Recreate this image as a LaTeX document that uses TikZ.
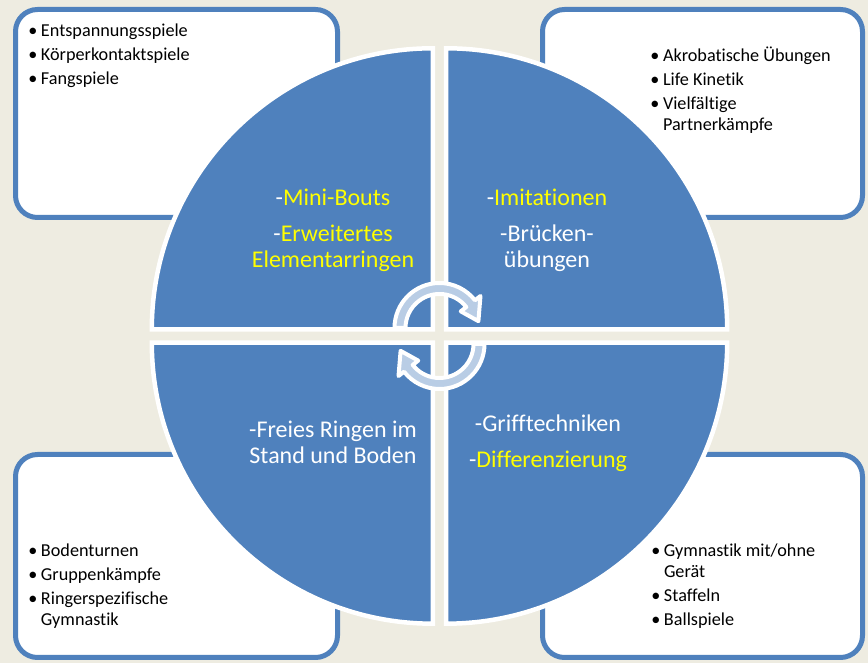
\documentclass[tikz,border=0pt]{standalone}
\usepackage{fontspec}
\setmainfont{Carlito}[Ligatures={NoCommon}]
\usepackage{xcolor}
\usetikzlibrary{positioning}
\definecolor{bgtan}{HTML}{EEECE1}
\definecolor{quadblue}{HTML}{4F81BD}
\definecolor{arrowblue}{HTML}{B9CDE5}
\definecolor{hiyellow}{HTML}{FFFF00}
\newcommand{\bul}{\makebox[6.3pt][l]{\textbullet}}
\newcommand{\nobul}{\hspace*{6.3pt}}

\begin{document}
\begin{tikzpicture}[x=0.5pt, y=0.5pt,
                    boxframe/.style={line width=2.5pt, draw=quadblue, fill=white, rounded corners=11pt},
                    quadrant/.style={line width=2.25pt, draw=white, fill=quadblue},
                    circarrow/.style={line width=2pt, draw=white, fill=arrowblue, line join=round},
                    listtext/.style={anchor=north west, inner sep=0pt, align=left, text=black,
                                     font=\fontsize{9.1}{10.5}\selectfont},
                    quadtext/.style={anchor=north, inner sep=0pt, align=center, text=white,
                                     font=\fontsize{12}{13}\selectfont},
                   ]

\fill[bgtan] (0,0) rectangle (868,663);
\useasboundingbox (0,0) rectangle (868,663);

% corner boxes
\draw[boxframe] (15.5,445.5) rectangle (337.5,653.5);
\draw[boxframe] (542.5,445.5) rectangle (862.5,653.5);
\draw[boxframe] (15.5,5.5) rectangle (337.5,208.5);
\draw[boxframe] (542.5,5.5) rectangle (862.5,208.5);

\node[listtext] (spiele) at (28,641.5)
  {\strut\bul Entspannungsspiele\\[1.5pt]\bul Körperkontaktspiele\\[1.5pt]\bul Fangspiele};
\node[listtext] (akro) at (650,616.5)
  {\strut\bul Akrobatische Übungen\\[1.5pt]\bul Life Kinetik\\[1.5pt]\bul Vielfältige\\\nobul Partnerkämpfe};
\node[listtext] (boden) at (28,121.5)
  {\strut\bul Bodenturnen\\[1.5pt]\bul Gruppenkämpfe\\[1.5pt]\bul Ringerspezifische\\\nobul Gymnastik};
\node[listtext] (geraet) at (651,121.5)
  {\strut\bul Gymnastik mit/ohne\\\nobul Gerät\\[1.5pt]\bul Staffeln\\[1.5pt]\bul Ballspiele};

% four quarters of the circle
\coordinate (c) at (439.5,327);
\draw[quadrant] ([shift={(-6.7,6.7)}]c) -- ++(-281,0) arc[start angle=180, end angle=90, radius=281] -- cycle;
\draw[quadrant] ([shift={(6.7,6.7)}]c) -- ++(0,281) arc[start angle=90, end angle=0, radius=281] -- cycle;
\draw[quadrant] ([shift={(6.7,-6.7)}]c) -- ++(281,0) arc[start angle=0, end angle=-90, radius=281] -- cycle;
\draw[quadrant] ([shift={(-6.7,-6.7)}]c) -- ++(0,-281) arc[start angle=270, end angle=180, radius=281] -- cycle;

\node[quadtext, text=hiyellow] (bouts) at (333,476.5)
  {\strut\textcolor{white}{-}Mini-Bouts\\[5.4pt]\textcolor{white}{-}Erweitertes\\Elementarringen};
\node[quadtext] (bruecke) at (547,476.5)
  {\strut-\textcolor{hiyellow}{Imitationen}\\[5.4pt]-Brücken-\\übungen};
\node[quadtext] (freies) at (333,244.5)
  {\strut-Freies Ringen im\\Stand und Boden};
\node[quadtext] (griff) at (548,250)
  {\strut-Grifftechniken\\[4.9pt]-\textcolor{hiyellow}{Differenzierung}};

% circular arrows
\begin{scope}[shift={(439.5,335)}]
  \draw[circarrow] (180:45) arc[start angle=180, end angle=38, radius=45] -- (38:52)
    -- (10:39.5) -- (38:27) -- (38:34) arc[start angle=38, end angle=180, radius=34] -- cycle;
\end{scope}
\begin{scope}[shift={(439.5,319)}, rotate=180]
  \draw[circarrow] (180:45) arc[start angle=180, end angle=38, radius=45] -- (38:52)
    -- (10:39.5) -- (38:27) -- (38:34) arc[start angle=38, end angle=180, radius=34] -- cycle;
\end{scope}

\end{tikzpicture}
\end{document}
